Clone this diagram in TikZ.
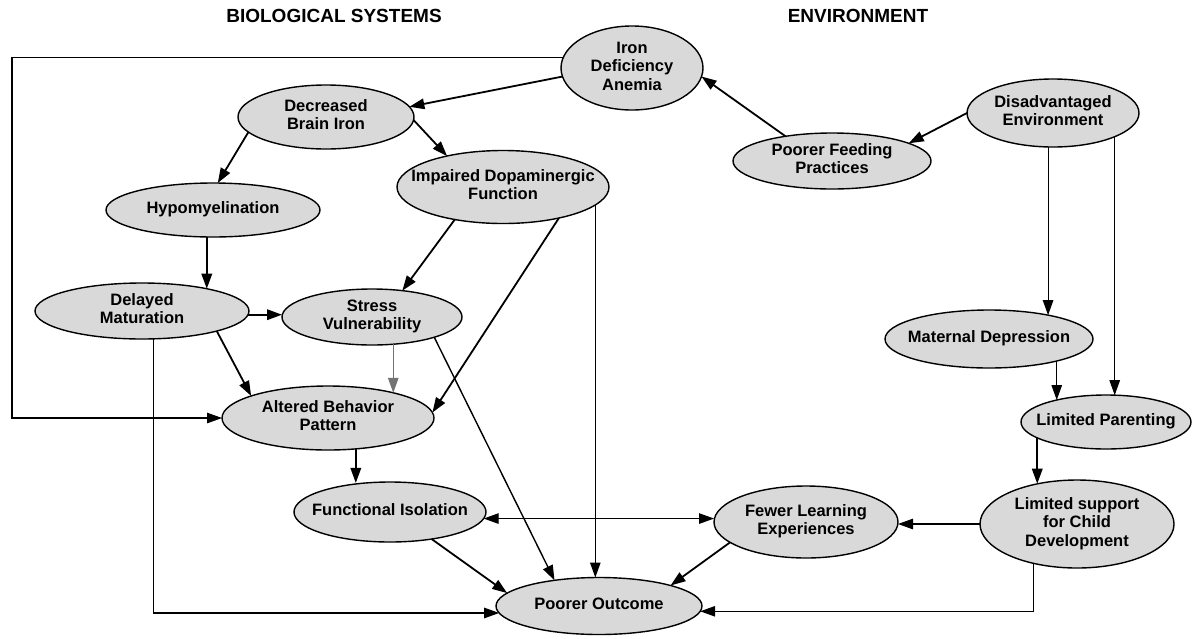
\documentclass[tikz,border=0pt]{standalone}
\usepackage{fontspec}
\setmainfont{Liberation Sans}
\usetikzlibrary{shapes.geometric,arrows.meta}
\newcommand\twt[1]{\makebox[0pt]{\begin{tabular}{@{}c@{}}#1\end{tabular}}}
\begin{document}
\begin{tikzpicture}[x=1pt,y=-1pt,
  ell/.style={ellipse,draw,line width=1.4pt,fill=black!15,inner sep=0pt,outer sep=0pt,
    font=\fontsize{16.5}{18.5}\selectfont\bfseries},
  ttl/.style={font=\fontsize{19}{22}\selectfont\bfseries,anchor=base,inner sep=0pt},
  tip/.tip={Triangle[length=15pt,width=10.5pt]},
  thk/.style={-tip,line width=1.8pt},
  thn/.style={-tip,line width=1.1pt},
  dbl/.style={tip-tip,line width=1.1pt},
]
\useasboundingbox (0,0) rectangle (1193,638);

\node[ttl] (tbio) at (334,22) {BIOLOGICAL SYSTEMS};
\node[ttl] (tenv) at (858,22) {ENVIRONMENT};

\node[ell,minimum width=142,minimum height=84] (ida) at (632,68) {\twt{Iron\\Deficiency\\Anemia}};
\node[ell,minimum width=176,minimum height=64] (dbi) at (326,117) {\twt{Decreased\\Brain Iron}};
\node[ell,minimum width=214,minimum height=54] (hyp) at (213,210) {\twt{Hypomyelination}};
\node[ell,minimum width=212,minimum height=73] (idf) at (503,187) {\twt{Impaired Dopaminergic\\Function}};
\node[ell,minimum width=214,minimum height=56] (del) at (142,311) {\twt{Delayed\\Maturation}};
\node[ell,minimum width=180,minimum height=56] (svu) at (372,317) {\twt{Stress\\Vulnerability}};
\node[ell,minimum width=212,minimum height=64] (abp) at (328,418) {\twt{Altered Behavior\\Pattern}};
\node[ell,minimum width=192,minimum height=60] (fi) at (390,512) {\twt{Functional Isolation}};
\node[ell,minimum width=206,minimum height=57] (po) at (599,606) {\twt{Poorer Outcome}};
\node[ell,minimum width=184,minimum height=72] (fle) at (806,522) {\twt{Fewer Learning\\Experiences}};
\node[ell,minimum width=194,minimum height=88] (lsup) at (1077,524) {\twt{Limited support\\for Child\\Development}};
\node[ell,minimum width=170,minimum height=54] (lpar) at (1106,422) {\twt{Limited Parenting}};
\node[ell,minimum width=208,minimum height=58] (md) at (989,339) {\twt{Maternal Depression}};
\node[ell,minimum width=172,minimum height=68] (dis) at (1053,113) {\twt{Disadvantaged\\Environment}};
\node[ell,minimum width=198,minimum height=56] (pfp) at (832,161) {\twt{Poorer Feeding\\Practices}};

\coordinate (lp) at (12,418);

\draw[thn] (ida.171) -| (lp) -- (abp.west);
\draw[thk] (ida.187) -- (dbi.7);
\draw[thk] (pfp.152) -- (ida.-7);
\draw[thk] (dis.west) -- (pfp.13);
\draw[thn] (md.22 |- dis.south) -- (md.22);
\draw[thn] (dis.-21) -- (dis.-21 |- lpar.71);
\draw[thn] (md.-18) -- (md.-18 |- lpar.156);
\draw[thk] (lpar.193) -- (lpar.193 |- lsup.134);
\draw[thn] (lsup.west) -- (lsup.west -| fle.east);
\draw[thn] (lsup.222) |- (po.-3);
\draw[dbl] (fi.-4) -- (fi.-4 -| fle.west);
\draw[thk] (fle.195) -- (po.16);
\draw[thk] (fi.-33) -- (po.172);
\draw[thk] (abp.-48) -- (abp.-48 |- fi.129);
\draw[thn] (del.-68) |- (po.184);
\draw[thk] (del.-15) -- (abp.164);
\draw[thk] (del.-2) -- (del.-2 -| svu.west);
\draw[thk] (hyp.257) -- (hyp.257 |- del.19);
\draw[thk] (dbi.191) -- (hyp.80);
\draw[thk] (dbi.-2) -- (idf.151);
\draw[thk] (idf.214) -- (svu.41);
\draw[thk] (idf.-29) -- (abp.3);
\draw[thn] (idf.-11) -- (idf.-11 |- po.north);
\draw[thn,draw=black!55] (svu.-52) -- (svu.-52 |- abp.21);
\draw[thn,line width=1.4pt] (svu.-18) -- (po.150);
\end{tikzpicture}
\end{document}
